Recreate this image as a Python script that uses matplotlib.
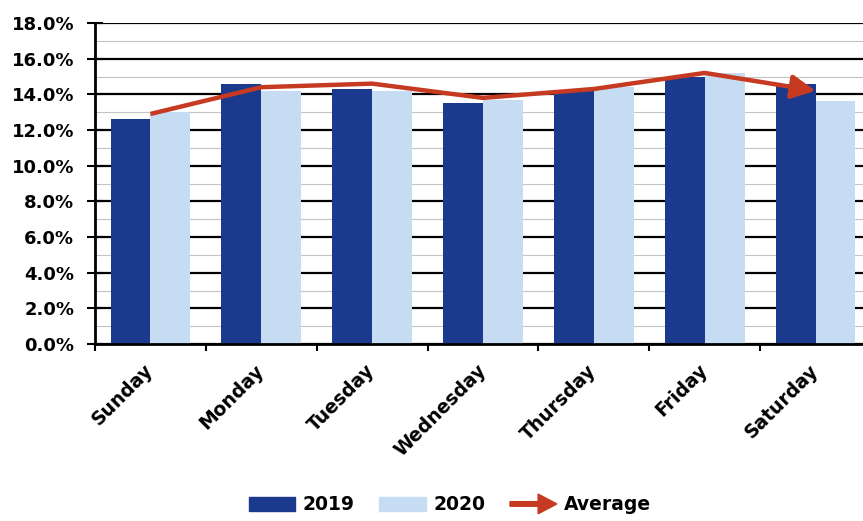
import matplotlib

matplotlib.use("Agg")
import matplotlib.pyplot as plt
import numpy as np
from matplotlib.legend_handler import HandlerPatch
from matplotlib.patches import FancyArrow, Patch
from matplotlib.ticker import FixedLocator, MultipleLocator, PercentFormatter


days = ["Sunday", "Monday", "Tuesday", "Wednesday", "Thursday", "Friday", "Saturday"]
share_2019 = [12.6, 14.6, 14.3, 13.5, 14.2, 15.0, 14.6]
share_2020 = [13.0, 14.2, 14.2, 13.7, 14.4, 15.2, 13.6]
share_avg = [12.9, 14.4, 14.6, 13.8, 14.3, 15.2, 14.2]

DARK = "#1b3a8e"
LIGHT = "#c5dcf3"
RED = "#c63a22"


def arrow_handle(legend, orig_handle, xdescent, ydescent, width, height, fontsize):
    return FancyArrow(0, height / 2, width, 0, width=height * 0.35, head_width=height * 1.5,
                      head_length=width * 0.4, length_includes_head=True, color=RED)


def main() -> None:
    fig = plt.figure(figsize=(8.63, 5.21), dpi=100)
    ax = fig.add_axes([95 / 863, 177 / 521, 776 / 863, 321 / 521])

    x = np.arange(len(days))
    w = 0.36
    ax.bar(x - w / 2, share_2019, width=w, color=DARK, zorder=2)
    ax.bar(x + w / 2, share_2020, width=w, color=LIGHT, zorder=2)

    # average line, last segment carries the arrow head
    ax.plot(x[:-1], share_avg[:-1], color=RED, lw=3.2, solid_capstyle="butt", zorder=3)
    ax.annotate("", xy=(x[-1], share_avg[-1]), xytext=(x[-2], share_avg[-2]),
                arrowprops=dict(arrowstyle="-|>,head_length=0.8,head_width=0.4", mutation_scale=18,
                                lw=3.2, color=RED, shrinkA=0, shrinkB=0), zorder=3)

    ax.set_xlim(-0.5, len(days) - 0.5)
    ax.set_ylim(0, 18)
    ax.yaxis.set_major_locator(MultipleLocator(2))
    ax.yaxis.set_minor_locator(MultipleLocator(1))
    ax.yaxis.set_major_formatter(PercentFormatter(decimals=1))
    ax.grid(which="major", axis="y", color="black", lw=1.6, zorder=0)
    ax.grid(which="minor", axis="y", color="#c4c4c4", lw=0.8, zorder=0)
    ax.set_axisbelow(True)

    ax.xaxis.set_major_locator(FixedLocator(x - 0.5))
    ax.tick_params(axis="x", which="major", direction="out", length=5, width=1.5, labelbottom=False)
    ax.tick_params(axis="x", which="minor", length=0, pad=17)
    ax.set_xticks(x, minor=True)
    ax.set_xticklabels(days, minor=True, rotation=45, ha="right", va="center", rotation_mode="anchor",
                       fontsize=13.5, fontweight="bold")
    ax.tick_params(axis="y", which="major", direction="inout", length=12, width=1.5, labelsize=13, pad=9)
    ax.tick_params(axis="y", which="minor", length=0)
    for lab in ax.get_yticklabels():
        lab.set_fontweight("bold")

    for side in ["top", "right"]:
        ax.spines[side].set_visible(False)
    ax.spines["left"].set_linewidth(2)
    ax.spines["bottom"].set_linewidth(2)

    handles = [Patch(color=DARK), Patch(color=LIGHT),
               FancyArrow(0, 0, 1, 0, color=RED)]
    fig.legend(handles, ["2019", "2020", "Average"], loc="center", bbox_to_anchor=(450 / 863, 16 / 521),
               ncol=3, frameon=False, handlelength=2.5, handletextpad=0.4, columnspacing=1.3,
               prop=dict(size=13.5, weight="bold"),
               handler_map={FancyArrow: HandlerPatch(patch_func=arrow_handle)})

    fig.savefig("out.png", dpi=100)
    plt.close(fig)


if __name__ == "__main__":
    main()
